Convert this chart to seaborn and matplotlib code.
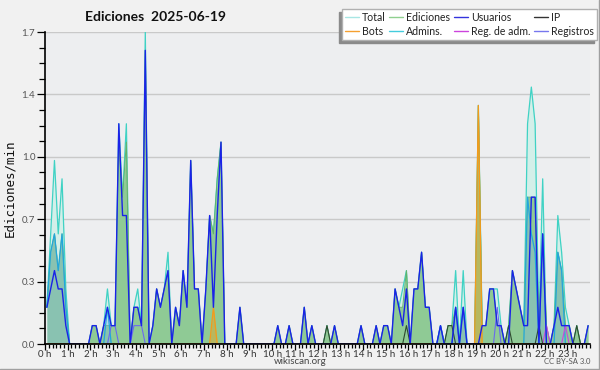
import numpy as np
import pandas as pd
import matplotlib
matplotlib.use("Agg")
import matplotlib.pyplot as plt
from matplotlib.lines import Line2D
from matplotlib.ticker import MultipleLocator, FixedLocator
import seaborn as sns

# edits per minute, one value per 10-minute bin (6 per hour)
total = [
    0.2, 0.6, 1.0, 0.6, 0.9, 0.3,   # 0 h
    0, 0, 0, 0, 0, 0,               # 1 h
    0.1, 0.1, 0, 0.1, 0.3, 0.1,     # 2 h
    0.1, 1.2, 0.8, 1.2, 0.0, 0.2,   # 3 h
    0.3, 0.1, 1.7, 0.0, 0.1, 0.3,   # 4 h
    0.2, 0.3, 0.5, 0.0, 0.2, 0.1,   # 5 h
    0.4, 0.2, 1.0, 0.3, 0.3, 0.0,   # 6 h
    0.3, 0.7, 0.6, 0.9, 1.1, 0.0,   # 7 h
    0, 0, 0, 0.2, 0, 0,             # 8 h
    0, 0, 0, 0, 0, 0,               # 9 h
    0, 0.1, 0, 0, 0.1, 0,           # 10 h
    0, 0, 0.2, 0, 0.1, 0,           # 11 h
    0, 0, 0.1, 0, 0.1, 0,           # 12 h
    0, 0, 0, 0, 0, 0.1,             # 13 h
    0, 0, 0, 0.1, 0, 0.1,           # 14 h
    0.1, 0, 0.3, 0.2, 0.3, 0.4,     # 15 h
    0, 0.3, 0.3, 0.5, 0.2, 0.2,     # 16 h
    0, 0, 0.1, 0, 0.1, 0.1,         # 17 h
    0.4, 0, 0.4, 0, 0, 0,           # 18 h
    1.3, 0.1, 0.1, 0.3, 0.3, 0.3,   # 19 h
    0.1, 0, 0.1, 0.4, 0.3, 0.2,     # 20 h
    0.1, 1.2, 1.4, 1.2, 0.1, 0.9,   # 21 h
    0, 0, 0.1, 0.7, 0.5, 0.2,       # 22 h
    0.1, 0, 0.1, 0, 0, 0.1,         # 23 h
]
ediciones = [
    0.2, 0.5, 0.6, 0.4, 0.6, 0.2,
    0, 0, 0, 0, 0, 0,
    0.1, 0.1, 0, 0.1, 0.1, 0.1,
    0.1, 1.1, 0.8, 1.1, 0.0, 0.2,
    0.2, 0.1, 1.6, 0.0, 0.1, 0.3,
    0.2, 0.3, 0.4, 0.0, 0.2, 0.1,
    0.4, 0.2, 1.0, 0.3, 0.3, 0.0,
    0.3, 0.7, 0.6, 0.9, 1.1, 0.0,
    0, 0, 0, 0.2, 0, 0,
    0, 0, 0, 0, 0, 0,
    0, 0.1, 0, 0, 0.1, 0,
    0, 0, 0.2, 0, 0.1, 0,
    0, 0, 0.1, 0, 0.1, 0,
    0, 0, 0, 0, 0, 0.1,
    0, 0, 0, 0.1, 0, 0.1,
    0.1, 0, 0.3, 0.2, 0.2, 0.4,
    0, 0.3, 0.3, 0.5, 0.2, 0.2,
    0, 0, 0.1, 0, 0.1, 0.1,
    0.2, 0, 0.2, 0, 0, 0,
    1.3, 0.1, 0.1, 0.3, 0.3, 0.1,
    0.1, 0, 0.1, 0.4, 0.3, 0.2,
    0.1, 0.8, 0.8, 0.8, 0.1, 0.6,
    0.1, 0, 0.1, 0.5, 0.4, 0.1,
    0.1, 0, 0.1, 0, 0, 0.1,
]
usuarios = [
    0.2, 0.3, 0.4, 0.3, 0.3, 0.1,
    0, 0, 0, 0, 0, 0,
    0.1, 0.1, 0, 0.1, 0.2, 0.1,
    0.1, 1.2, 0.7, 0.7, 0.0, 0.2,
    0.2, 0.1, 1.6, 0.0, 0.1, 0.3,
    0.2, 0.3, 0.4, 0.0, 0.2, 0.1,
    0.4, 0.2, 1.0, 0.3, 0.3, 0.0,
    0.3, 0.7, 0.2, 0.7, 1.1, 0.0,
    0, 0, 0, 0.2, 0, 0,
    0, 0, 0, 0, 0, 0,
    0, 0.1, 0, 0, 0.1, 0,
    0, 0, 0.2, 0, 0.1, 0,
    0, 0, 0, 0, 0.1, 0,
    0, 0, 0, 0, 0, 0.1,
    0, 0, 0, 0.1, 0, 0.1,
    0.1, 0, 0.3, 0.2, 0.1, 0.3,
    0, 0.3, 0.3, 0.5, 0.2, 0.2,
    0, 0, 0.1, 0, 0, 0,
    0.2, 0, 0.2, 0, 0, 0,
    0, 0.1, 0.1, 0.3, 0.3, 0.1,
    0.1, 0, 0, 0.4, 0.3, 0.2,
    0.1, 0.1, 0.8, 0.8, 0.0, 0.6,
    0, 0, 0.1, 0.2, 0.1, 0.1,
    0.1, 0, 0, 0, 0, 0.1,
]
# sparse series: bin index -> edits per minute
admins = {0: 0.2, 1: 0.5, 2: 0.6, 3: 0.4, 4: 0.6, 5: 0.2, 16: 0.2, 104: 0.1,
          108: 0.2, 110: 0.2, 127: 0.8, 128: 0.6, 129: 0.5, 131: 0.6,
          135: 0.5, 136: 0.4}
ip = {74: 0.1, 95: 0.1, 106: 0.1, 107: 0.1, 122: 0.1, 130: 0.1, 140: 0.1}
bots = {44: 0.2, 114: 1.3}
registros = {17: 0.1, 18: 0.1, 23: 0.1, 24: 0.1, 25: 0.1, 119: 0.2}
reg_adm = {132: 0.1, 137: 0.1}

hour_labels = [f"{h} h" for h in range(24)]

n = len(total)
hours = (np.arange(n) + 0.5) / 6


def expand(d):
    s = np.zeros(n)
    for k, v in d.items():
        s[k] = v
    return s


df = pd.DataFrame({
    "hora": hours, "Total": total, "Ediciones": ediciones, "Usuarios": usuarios,
    "Admins.": expand(admins), "IP": expand(ip), "Bots": expand(bots),
    "Registros": expand(registros), "Reg. de adm.": expand(reg_adm),
})

sns.set_style("white")
plt.rcParams["font.family"] = ["Lato", "DejaVu Sans"]

fig = plt.figure(figsize=(6, 3.7), dpi=100, facecolor="#f1f1f1")
ax = fig.add_axes([45 / 600, 1 - 344 / 370, 545 / 600, 312 / 370])
ax.set_facecolor("#edeef0")

# fills
ax.fill_between(df.hora, df.Total, color="#d3efe9", zorder=1, lw=0)
ax.fill_between(df.hora, df.Ediciones, color="#8fca95", zorder=3, lw=0)
ax.fill_between(df.hora, df["Admins."], color="#7fb4e6", alpha=0.35, zorder=4, lw=0)
ax.fill_between(df.hora, df.Bots, color="#e8a020", alpha=0.45, zorder=4, lw=0)

# lines
sns.lineplot(data=df, x="hora", y="Total", ax=ax, color="#3fd2c4", lw=0.9, zorder=2)
sns.lineplot(data=df, x="hora", y="Ediciones", ax=ax, color="#62b36a", lw=0.7, zorder=3)
sns.lineplot(data=df, x="hora", y="Admins.", ax=ax, color="#22a6dc", lw=0.9, zorder=5)
sns.lineplot(data=df, x="hora", y="Registros", ax=ax, color="#6a6aee", lw=0.8, zorder=5)
sns.lineplot(data=df, x="hora", y="Reg. de adm.", ax=ax, color="#cc44dd", lw=0.8, zorder=5)
sns.lineplot(data=df, x="hora", y="IP", ax=ax, color="#2e4a30", lw=0.8, zorder=5)
sns.lineplot(data=df, x="hora", y="Bots", ax=ax, color="#f59a1a", lw=0.9, zorder=6)
sns.lineplot(data=df, x="hora", y="Usuarios", ax=ax, color="#1a22e8", lw=1.0, zorder=7)

ax.set_xlim(0, 24)
ax.set_ylim(0, 1.7)
ax.set_xlabel("")
ax.set_ylabel("")

yt = np.linspace(0, 1.7, 6)
ax.yaxis.set_major_locator(FixedLocator(yt))
ax.set_yticklabels([f"{v:.1f}" for v in yt])
ax.yaxis.set_minor_locator(MultipleLocator(0.085))
ax.xaxis.set_major_locator(FixedLocator(range(24)))
ax.set_xticklabels(hour_labels)
ax.xaxis.set_minor_locator(MultipleLocator(1 / 6))

ax.grid(axis="y", which="major", color="#c9c9c9", lw=1, zorder=0)
ax.set_axisbelow(True)
ax.tick_params(axis="y", which="major", direction="out", length=6, width=0.9,
               color="black", labelsize=7, labelcolor="#555555", pad=1, left=True)
ax.tick_params(axis="y", which="minor", direction="out", length=4, width=0.9,
               color="black", left=True)
ax.tick_params(axis="x", which="major", direction="out", length=4, width=0.9,
               color="black", labelsize=7, labelcolor="#333333", pad=0, bottom=True)
ax.tick_params(axis="x", which="minor", direction="out", length=3, width=0.9,
               color="black", bottom=True)
for side in ["top", "right"]:
    ax.spines[side].set_visible(False)
for side in ["left", "bottom"]:
    ax.spines[side].set_color("black")
    ax.spines[side].set_linewidth(1.2)
    ax.spines[side].set_zorder(10)

# texts
fig.text(85 / 600, 1 - 17 / 370, "Ediciones  2025-06-19", fontsize=10,
         fontweight="bold", va="center", ha="left", color="#111111")
fig.text(10 / 600, 1 - 188 / 370, "Ediciones/min", rotation=90, fontsize=9,
         family="DejaVu Sans Mono", va="center", ha="center", color="#111111")
fig.text(300 / 600, 1 - 362 / 370, "wikiscan.org", fontsize=7, color="#444444",
         ha="center", va="center")
fig.text(590 / 600, 1 - 362 / 370, "CC BY-SA 3.0", fontsize=5.5, color="#555555",
         ha="right", va="center")

# legend
leg_items = [("Total", "#a8e6e4"), ("Bots", "#f5a030"), ("Ediciones", "#8fd08f"),
             ("Admins.", "#44ccdd"), ("Usuarios", "#3333dd"),
             ("Reg. de adm.", "#cc44dd"), ("IP", "#333333"), ("Registros", "#7777ee")]
handles = [Line2D([], [], color=c, lw=1) for _, c in leg_items]
leg = fig.legend(handles, [t for t, _ in leg_items], ncol=4, loc="upper right",
                 bbox_to_anchor=(597 / 600, 1 - 9 / 370), fontsize=7.6,
                 frameon=True, fancybox=False, edgecolor="#b0b0b0",
                 facecolor="white", framealpha=1, handlelength=1.3,
                 handletextpad=0.3, columnspacing=0.35, labelspacing=0.25,
                 borderpad=0.3, borderaxespad=0,
                 shadow={"ox": -2, "oy": -2, "color": "#8a8a8a", "alpha": 1})
for t in leg.get_texts():
    t.set_color("#222222")

fig.add_artist(Line2D([0, 1], [1.5 / 370, 1.5 / 370], color="#a0a0a0", lw=1))
fig.add_artist(Line2D([598.5 / 600, 598.5 / 600], [0, 1], color="#a0a0a0", lw=1))

fig.savefig("out.png", dpi=100, facecolor=fig.get_facecolor())
